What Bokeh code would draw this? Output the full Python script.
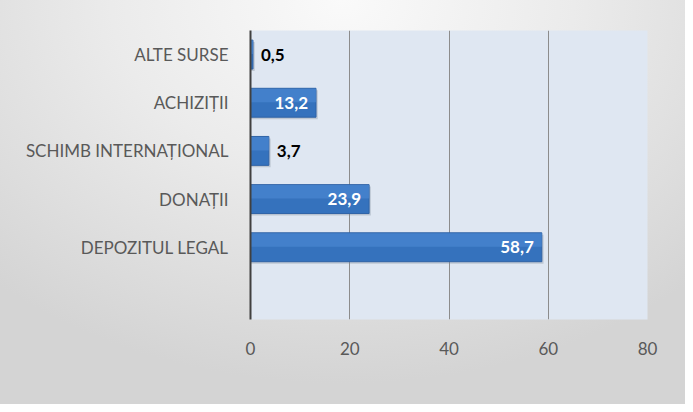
from bokeh.plotting import figure
from bokeh.models import ColumnDataSource, FactorRange, FixedTicker, LabelSet
from bokeh.transform import dodge
from bokeh.core.properties import value
from bokeh.embed import file_html
from bokeh.resources import INLINE

categories = ["ALTE SURSE", "ACHIZIȚII", "SCHIMB INTERNAȚIONAL", "DONAȚII", "DEPOZITUL LEGAL"]
values = [0.5, 13.2, 3.7, 23.9, 58.7]
x_ticks = [0, 20, 40, 60, 80]

labels = [f"{v:.1f}".replace(".", ",") for v in values]
inside = [v >= 10 for v in values]
offsets = [-8 if i else 8 for i in inside]
aligns = ["right" if i else "left" for i in inside]
colors = ["white" if i else "black" for i in inside]

factors = [" "] + categories[::-1]

src = ColumnDataSource(dict(cat=categories, val=values, lab=labels,
                            off=offsets, al=aligns, col=colors,
                            sh=[v + 0.35 for v in values]))

p = figure(width=685, height=404, y_range=FactorRange(factors=factors, range_padding=0),
           x_range=(0, 80), output_backend="svg", toolbar_location=None,
           min_border_left=250, min_border_right=38, min_border_top=30, min_border_bottom=85)
p.border_fill_alpha = 0
p.styles = {"background": "radial-gradient(ellipse 75% 95% at 50% 0%, #fafafa 0%, #ebebeb 45%, #d4d4d4 100%)"}
p.outline_line_color = None
p.background_fill_color = "#dfe7f2"

# soft shadow
p.hbar(y=dodge("cat", -0.04, range=p.y_range), right="sh", left=0, height=0.6, source=src,
       fill_color="#7f8a99", fill_alpha=0.35, line_color=None)
p.hbar(y="cat", right="val", left=0, height=0.6, source=src,
       fill_color="#3572bd", line_color="#2f63a6", line_width=1)
# lighter upper half for gradient look
p.hbar(y=dodge("cat", 0.15, range=p.y_range), right="val", left=0, height=0.28, source=src,
       fill_color="#4d8ad4", fill_alpha=0.6, line_color=None)

p.add_layout(LabelSet(x="val", y="cat", text="lab", source=src, x_offset="off",
                      text_align="al", text_baseline="middle", text_color="col",
                      text_font=value("Lato"), text_font_size="17px", text_font_style="bold"))

p.xaxis.ticker = FixedTicker(ticks=x_ticks)
p.xaxis.axis_line_color = None
p.xaxis.major_tick_line_color = None
p.xaxis.minor_tick_line_color = None
p.xaxis.major_label_standoff = 16
p.xaxis.major_label_text_color = "#595959"
p.xaxis.major_label_text_font = "Lato"
p.xaxis.major_label_text_font_size = "17px"

p.yaxis.axis_line_color = "#404040"
p.yaxis.axis_line_width = 2
p.yaxis.major_tick_line_color = None
p.yaxis.minor_tick_line_color = None
p.yaxis.major_label_standoff = 16
p.yaxis.major_label_text_color = "#595959"
p.yaxis.major_label_text_font = "Lato"
p.yaxis.major_label_text_font_size = "17px"

p.xgrid.ticker = FixedTicker(ticks=x_ticks[1:])
p.xgrid.grid_line_color = "#8c8c8c"
p.xgrid.grid_line_width = 1
p.ygrid.grid_line_color = None

open("out.html", "w").write(file_html(p, INLINE))
